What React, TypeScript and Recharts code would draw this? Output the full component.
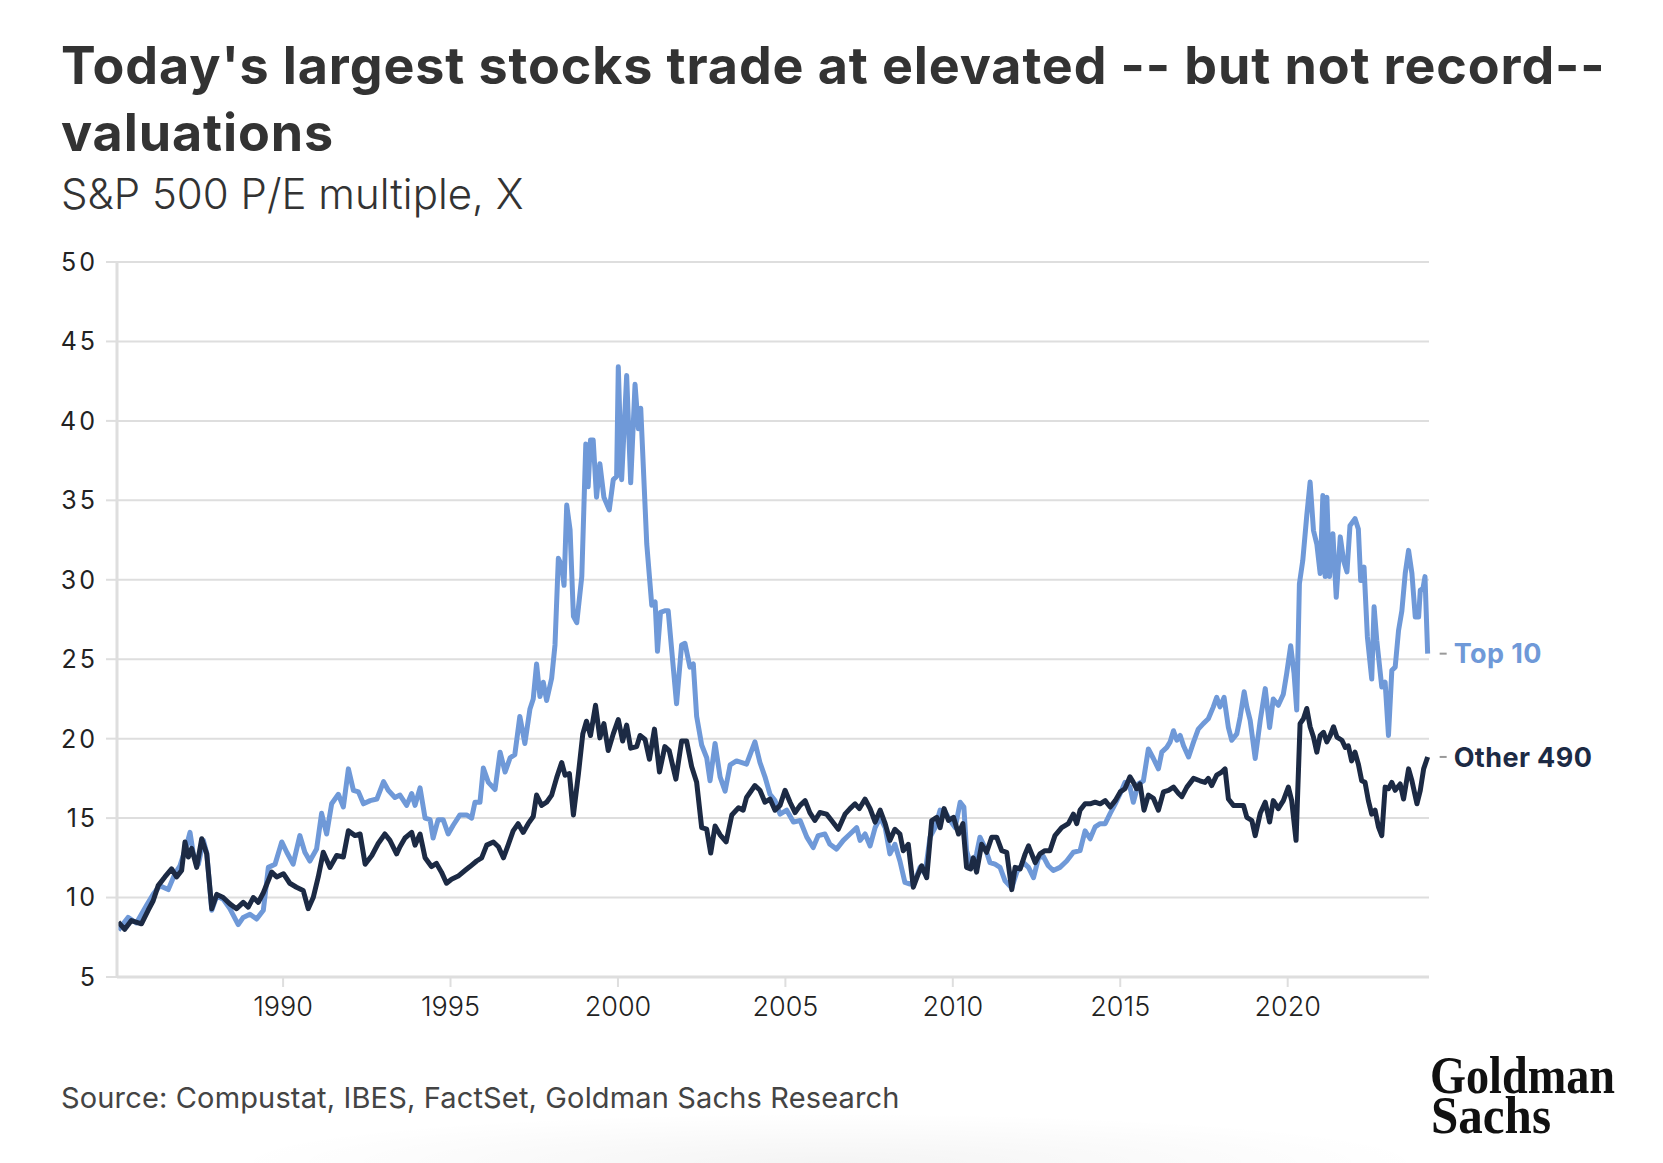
import React from 'react';
import { LineChart, Line, XAxis, YAxis, CartesianGrid } from 'recharts';

// [year, P/E]
const top10: [number, number][] = [
  [1985.08, 7.95], [1985.37, 8.75], [1985.62, 8.4], [1985.92, 9.5], [1986.12, 10.2], [1986.32, 10.75], [1986.57, 10.5], [1986.77, 11.5], [1986.92, 12.0], [1987.12, 13.3], [1987.22, 14.1], [1987.32, 12.75], [1987.47, 12.1], [1987.62, 13.6], [1987.72, 12.8], [1987.87, 9.2], [1988.02, 10.1], [1988.21, 9.9], [1988.41, 9.3], [1988.66, 8.3], [1988.81, 8.75], [1989.01, 8.95], [1989.21, 8.65], [1989.41, 9.2], [1989.56, 11.9], [1989.76, 12.1], [1989.96, 13.5],
  [1990.11, 12.85], [1990.3, 12.1], [1990.5, 13.9], [1990.65, 12.85], [1990.8, 12.3], [1991.0, 13.05], [1991.15, 15.3], [1991.3, 14.0], [1991.45, 15.9], [1991.65, 16.5], [1991.8, 15.7], [1991.95, 18.1], [1992.1, 16.75], [1992.25, 16.65], [1992.4, 15.9], [1992.6, 16.1], [1992.8, 16.2], [1993.0, 17.3], [1993.14, 16.75], [1993.34, 16.3], [1993.49, 16.45], [1993.69, 15.8], [1993.84, 16.55], [1993.94, 15.8], [1994.09, 16.9], [1994.24, 15.0], [1994.39, 14.9], [1994.48, 13.75], [1994.63, 14.9], [1994.78, 14.9], [1994.93, 14.0],
  [1995.08, 14.55], [1995.28, 15.2], [1995.48, 15.2], [1995.63, 15.0], [1995.73, 16.0], [1995.88, 16.0], [1995.98, 18.15], [1996.13, 17.25], [1996.33, 16.8], [1996.48, 19.15], [1996.63, 17.9], [1996.78, 18.8], [1996.92, 19.0], [1997.07, 21.4], [1997.22, 19.7], [1997.37, 21.85], [1997.47, 22.5], [1997.57, 24.7], [1997.67, 22.65], [1997.77, 23.55], [1997.87, 22.4], [1998.02, 23.8], [1998.12, 25.9], [1998.22, 31.35], [1998.32, 30.9], [1998.39, 29.65], [1998.47, 34.7], [1998.57, 33.15], [1998.67, 27.7], [1998.77, 27.3], [1998.92, 30.2], [1999.04, 38.55], [1999.11, 35.85], [1999.18, 38.8], [1999.26, 38.8], [1999.36, 35.2], [1999.46, 37.3], [1999.58, 35.2], [1999.74, 34.4], [1999.86, 36.3], [1999.96, 36.5],
  [2000.01, 43.4], [2000.11, 36.3], [2000.26, 42.85], [2000.38, 36.1], [2000.51, 42.3], [2000.61, 39.5], [2000.68, 40.8], [2000.86, 32.25], [2001.01, 28.4], [2001.11, 28.6], [2001.18, 25.5], [2001.27, 27.95], [2001.4, 28.05], [2001.5, 28.05], [2001.57, 26.4], [2001.75, 22.2], [2001.9, 25.9], [2002.0, 26.0], [2002.15, 24.5], [2002.25, 24.7], [2002.35, 21.4], [2002.5, 19.6], [2002.65, 18.8], [2002.75, 17.35], [2002.9, 19.7], [2003.05, 17.6], [2003.2, 16.7], [2003.35, 18.35], [2003.54, 18.6], [2003.84, 18.4], [2004.09, 19.8], [2004.24, 18.5], [2004.39, 17.6], [2004.54, 16.5], [2004.69, 16.1], [2004.84, 15.25],
  [2005.04, 15.5], [2005.24, 14.75], [2005.44, 14.85], [2005.64, 13.8], [2005.83, 13.15], [2005.98, 13.9], [2006.18, 14.0], [2006.33, 13.35], [2006.53, 13.05], [2006.73, 13.6], [2006.93, 14.0], [2007.13, 14.4], [2007.23, 13.6], [2007.38, 14.0], [2007.53, 13.25], [2007.68, 14.4], [2007.83, 15.05], [2007.98, 14.4], [2008.12, 12.75], [2008.27, 13.35], [2008.42, 12.3], [2008.57, 10.95], [2008.72, 10.85], [2008.87, 11.05], [2009.02, 11.9], [2009.17, 11.5], [2009.32, 13.8], [2009.47, 14.4], [2009.62, 15.5], [2009.77, 15.4], [2009.92, 14.85],
  [2010.07, 14.4], [2010.22, 16.0], [2010.33, 15.7], [2010.41, 12.95], [2010.56, 11.9], [2010.71, 12.75], [2010.81, 13.8], [2010.96, 13.15], [2011.11, 12.2], [2011.26, 12.1], [2011.41, 11.9], [2011.56, 11.05], [2011.76, 10.6], [2011.91, 11.6], [2012.11, 12.2], [2012.26, 11.9], [2012.41, 11.25], [2012.56, 12.5], [2012.7, 12.6], [2012.85, 12.0], [2013.0, 11.7], [2013.2, 11.9], [2013.4, 12.3], [2013.6, 12.85], [2013.8, 12.95], [2013.95, 14.2], [2014.1, 13.7], [2014.25, 14.45], [2014.4, 14.65], [2014.55, 14.65], [2014.7, 15.3], [2014.85, 15.9],
  [2015.0, 16.55], [2015.14, 17.25], [2015.29, 16.95], [2015.39, 16.0], [2015.54, 17.15], [2015.69, 17.35], [2015.84, 19.35], [2015.99, 18.75], [2016.14, 18.1], [2016.24, 19.15], [2016.39, 19.45], [2016.49, 19.8], [2016.59, 20.5], [2016.69, 19.9], [2016.79, 20.2], [2016.89, 19.55], [2017.04, 18.85], [2017.19, 19.8], [2017.33, 20.6], [2017.48, 20.95], [2017.63, 21.25], [2017.78, 22.0], [2017.88, 22.6], [2017.98, 22.0], [2018.1, 22.6], [2018.23, 20.7], [2018.33, 19.9], [2018.48, 20.3], [2018.58, 21.35], [2018.7, 22.95], [2018.78, 22.0], [2018.88, 21.15], [2019.03, 18.75], [2019.18, 21.15], [2019.33, 23.15], [2019.46, 20.7], [2019.57, 22.5], [2019.72, 22.1], [2019.87, 22.8], [2019.97, 24.1],
  [2020.09, 25.85], [2020.19, 24.1], [2020.27, 21.8], [2020.35, 29.75], [2020.45, 31.2], [2020.57, 34.05], [2020.67, 36.15], [2020.77, 33.1], [2020.87, 32.25], [2020.97, 30.4], [2021.05, 35.3], [2021.12, 30.2], [2021.17, 35.2], [2021.25, 30.2], [2021.35, 32.9], [2021.45, 28.9], [2021.57, 32.7], [2021.67, 31.2], [2021.77, 30.5], [2021.86, 33.4], [2022.01, 33.85], [2022.11, 33.2], [2022.18, 29.95], [2022.28, 30.8], [2022.38, 26.4], [2022.51, 23.75], [2022.58, 28.3], [2022.66, 26.2], [2022.81, 23.25], [2022.91, 23.55], [2023.01, 20.2], [2023.11, 24.3], [2023.21, 24.5], [2023.31, 26.8], [2023.41, 28.05], [2023.51, 30.4], [2023.61, 31.85], [2023.71, 30.4], [2023.81, 27.65], [2023.91, 27.65], [2023.96, 29.35], [2024.04, 29.45], [2024.1, 30.2], [2024.18, 25.35],
];

const other490: [number, number][] = [
  [1985.08, 8.45], [1985.27, 8.0], [1985.47, 8.55], [1985.77, 8.35], [1985.97, 9.2], [1986.12, 9.8], [1986.27, 10.75], [1986.47, 11.3], [1986.67, 11.8], [1986.82, 11.3], [1986.97, 11.7], [1987.07, 13.5], [1987.17, 12.55], [1987.27, 13.1], [1987.42, 11.9], [1987.57, 13.7], [1987.72, 12.75], [1987.87, 9.3], [1988.02, 10.2], [1988.21, 10.0], [1988.41, 9.6], [1988.61, 9.3], [1988.81, 9.7], [1988.96, 9.4], [1989.11, 10.0], [1989.26, 9.7], [1989.41, 10.3], [1989.66, 11.6], [1989.81, 11.3],
  [1990.01, 11.5], [1990.2, 10.9], [1990.4, 10.65], [1990.6, 10.45], [1990.75, 9.3], [1990.9, 10.0], [1991.05, 11.3], [1991.2, 12.85], [1991.4, 11.9], [1991.6, 12.65], [1991.8, 12.55], [1991.95, 14.2], [1992.15, 13.9], [1992.3, 14.0], [1992.45, 12.1], [1992.65, 12.65], [1992.84, 13.4], [1993.04, 14.0], [1993.19, 13.6], [1993.39, 12.75], [1993.49, 13.2], [1993.64, 13.75], [1993.84, 14.1], [1993.94, 13.3], [1994.09, 14.0], [1994.24, 12.5], [1994.43, 11.95], [1994.58, 12.15], [1994.73, 11.6], [1994.88, 10.9],
  [1995.03, 11.15], [1995.23, 11.35], [1995.43, 11.7], [1995.58, 11.95], [1995.78, 12.3], [1995.93, 12.5], [1996.08, 13.3], [1996.28, 13.5], [1996.43, 13.2], [1996.58, 12.5], [1996.72, 13.3], [1996.87, 14.2], [1997.02, 14.65], [1997.17, 14.1], [1997.32, 14.65], [1997.47, 15.1], [1997.57, 16.45], [1997.72, 15.8], [1997.87, 16.0], [1998.02, 16.45], [1998.17, 17.55], [1998.32, 18.5], [1998.42, 17.7], [1998.55, 17.8], [1998.67, 15.2], [1998.82, 17.8], [1998.95, 20.3], [1999.06, 21.1], [1999.18, 20.2], [1999.33, 22.1], [1999.46, 20.05], [1999.58, 20.95], [1999.71, 19.25], [1999.86, 20.3],
  [2000.01, 21.2], [2000.14, 19.85], [2000.26, 20.85], [2000.38, 19.4], [2000.56, 19.5], [2000.66, 20.2], [2000.81, 19.95], [2000.94, 18.7], [2001.09, 20.6], [2001.24, 17.9], [2001.4, 19.5], [2001.53, 19.25], [2001.73, 17.45], [2001.9, 19.85], [2002.05, 19.85], [2002.2, 18.25], [2002.35, 17.25], [2002.5, 14.4], [2002.65, 14.3], [2002.77, 12.8], [2002.9, 14.5], [2003.05, 13.95], [2003.23, 13.5], [2003.4, 15.2], [2003.6, 15.65], [2003.74, 15.5], [2003.84, 16.3], [2004.09, 17.05], [2004.24, 16.75], [2004.39, 16.0], [2004.54, 16.2], [2004.69, 15.5], [2004.84, 15.8], [2004.99, 16.75],
  [2005.14, 16.0], [2005.29, 15.35], [2005.44, 15.8], [2005.59, 16.1], [2005.73, 15.35], [2005.88, 14.85], [2006.03, 15.35], [2006.23, 15.25], [2006.38, 14.85], [2006.58, 14.3], [2006.78, 15.25], [2006.93, 15.6], [2007.08, 15.9], [2007.21, 15.6], [2007.38, 16.2], [2007.53, 15.6], [2007.68, 14.75], [2007.83, 15.5], [2007.98, 14.65], [2008.12, 13.6], [2008.27, 14.3], [2008.42, 14.0], [2008.52, 12.95], [2008.67, 13.35], [2008.82, 10.65], [2008.97, 11.5], [2009.07, 12.0], [2009.22, 11.25], [2009.37, 14.85], [2009.52, 15.05], [2009.62, 14.4], [2009.74, 15.6], [2009.87, 14.85],
  [2010.02, 15.05], [2010.17, 14.0], [2010.3, 14.65], [2010.41, 11.9], [2010.53, 11.8], [2010.61, 12.5], [2010.71, 11.6], [2010.86, 13.35], [2011.01, 12.85], [2011.16, 13.8], [2011.31, 13.8], [2011.46, 12.95], [2011.61, 12.85], [2011.76, 10.5], [2011.86, 11.9], [2012.01, 11.8], [2012.16, 12.75], [2012.26, 13.25], [2012.46, 12.2], [2012.6, 12.75], [2012.75, 12.95], [2012.9, 12.95], [2013.05, 13.9], [2013.25, 14.4], [2013.45, 14.65], [2013.6, 15.25], [2013.7, 14.65], [2013.8, 15.5], [2013.95, 15.9], [2014.1, 15.9], [2014.25, 16.0], [2014.4, 15.9], [2014.55, 16.1], [2014.7, 15.7], [2014.85, 16.1],
  [2015.0, 16.65], [2015.14, 16.85], [2015.29, 17.6], [2015.39, 17.25], [2015.49, 16.85], [2015.59, 17.15], [2015.71, 15.5], [2015.84, 16.45], [2015.99, 16.25], [2016.14, 15.5], [2016.29, 16.65], [2016.44, 16.75], [2016.59, 16.95], [2016.74, 16.55], [2016.84, 16.35], [2016.99, 16.95], [2017.19, 17.5], [2017.38, 17.35], [2017.53, 17.25], [2017.63, 17.5], [2017.73, 17.05], [2017.88, 17.7], [2018.03, 17.9], [2018.13, 18.1], [2018.23, 16.2], [2018.38, 15.8], [2018.53, 15.8], [2018.68, 15.8], [2018.78, 15.05], [2018.93, 14.85], [2019.03, 13.9], [2019.18, 15.3], [2019.33, 16.0], [2019.46, 14.75], [2019.57, 16.1], [2019.72, 15.6], [2019.87, 16.1],
  [2020.02, 16.95], [2020.12, 16.1], [2020.25, 13.6], [2020.37, 20.95], [2020.47, 21.25], [2020.57, 21.9], [2020.67, 20.75], [2020.77, 20.1], [2020.87, 19.15], [2020.97, 20.2], [2021.07, 20.4], [2021.17, 19.8], [2021.27, 20.2], [2021.37, 20.75], [2021.47, 20.1], [2021.62, 19.9], [2021.72, 19.45], [2021.81, 19.55], [2021.91, 18.6], [2022.01, 19.15], [2022.11, 18.4], [2022.21, 17.35], [2022.31, 17.25], [2022.41, 16.1], [2022.51, 15.25], [2022.61, 15.5], [2022.71, 14.45], [2022.81, 13.9], [2022.91, 16.95], [2023.01, 16.85], [2023.11, 17.25], [2023.21, 16.75], [2023.36, 17.15], [2023.46, 16.2], [2023.61, 18.1], [2023.71, 17.35], [2023.86, 15.9], [2023.96, 16.75], [2024.06, 18.1], [2024.18, 18.85],
];

const yTicks = [5, 10, 15, 20, 25, 30, 35, 40, 45, 50];
const xTicks = [1990, 1995, 2000, 2005, 2010, 2015, 2020];

const TOP_COLOR = '#6f99d8';
const OTHER_COLOR = '#1c2a44';
const GRID = '#dedede';

const top10Data = top10.map(([x, v]) => ({ x, v }));
const otherData = other490.map(([x, v]) => ({ x, v }));

// name label at the end of a line, with the little grey dash
const endLabel = (text: string, color: string, last: number) => (props: any) => {
  if (props.index !== last) return null;
  const { x, y } = props;
  return (
    <g>
      <line x1={x + 12} x2={x + 19} y1={y} y2={y} stroke="#999" strokeWidth={2} />
      <text x={x + 26} y={y} dy="0.36em" fill={color} fontSize={27} fontWeight={700} fontFamily="Inter, sans-serif" letterSpacing={0.4}>
        {text}
      </text>
    </g>
  );
};

export default function App() {
  return (
    <div style={{ position: 'absolute', left: 0, top: 0, width: 1663, height: 1163, background: '#fff', overflow: 'hidden', fontFamily: 'Inter, sans-serif' }}>
      <div style={{ position: 'absolute', left: 61, top: 32, fontSize: 52, lineHeight: '67px', fontWeight: 700, color: '#333', whiteSpace: 'nowrap', letterSpacing: 0.9 }}>
        Today's largest stocks trade at elevated -- but not record--<br />valuations
      </div>
      <div style={{ position: 'absolute', left: 61, top: 173, fontSize: 42, lineHeight: 1, fontWeight: 300, color: '#333', whiteSpace: 'nowrap' }}>
        S&amp;P 500 P/E multiple, X
      </div>

      <div style={{ position: 'absolute', left: 0, top: 0 }}>
        <LineChart width={1663} height={1100} margin={{ top: 262, right: 234, bottom: 63, left: 57 }}>
          <CartesianGrid vertical={false} stroke={GRID} strokeWidth={2} />
          <XAxis
            dataKey="x"
            type="number"
            domain={[1985.04, 2024.22]}
            ticks={xTicks}
            interval={0}
            height={60}
            axisLine={{ stroke: GRID, strokeWidth: 3 }}
            tickLine={{ stroke: GRID, strokeWidth: 2 }}
            tickSize={10}
            tickMargin={10}
            tick={{ fill: '#222', fontSize: 27, fontFamily: 'Inter, sans-serif', fontWeight: 300 }}
          />
          <YAxis
            type="number"
            domain={[5, 50]}
            ticks={yTicks}
            interval={0}
            width={60}
            axisLine={{ stroke: GRID, strokeWidth: 3 }}
            tickLine={{ stroke: GRID, strokeWidth: 2 }}
            tickSize={11}
            tickMargin={8}
            tick={{ fill: '#222', fontSize: 25, fontFamily: 'Inter, sans-serif', fontWeight: 400, letterSpacing: 3 }}
          />
          <Line
            data={top10Data}
            dataKey="v"
            type="linear"
            stroke={TOP_COLOR}
            strokeWidth={5}
            strokeLinejoin="round"
            dot={false}
            activeDot={false}
            isAnimationActive={false}
            label={endLabel('Top 10', TOP_COLOR, top10Data.length - 1)}
          />
          <Line
            data={otherData}
            dataKey="v"
            type="linear"
            stroke={OTHER_COLOR}
            strokeWidth={5}
            strokeLinejoin="round"
            dot={false}
            activeDot={false}
            isAnimationActive={false}
            label={endLabel('Other 490', OTHER_COLOR, otherData.length - 1)}
          />
        </LineChart>
      </div>

      <div style={{ position: 'absolute', left: 61, top: 1083, fontSize: 29, lineHeight: 1, fontWeight: 400, color: '#444', whiteSpace: 'nowrap', letterSpacing: 0.15 }}>
        Source: Compustat, IBES, FactSet, Goldman Sachs Research
      </div>

      <div style={{ position: 'absolute', left: 220, top: 1112, width: 1220, height: 51, background: 'radial-gradient(ellipse at 50% 100%, rgba(0,0,0,0.045), rgba(0,0,0,0) 70%)' }} />

      <svg style={{ position: 'absolute', left: 1410, top: 1030, overflow: 'visible' }} width={240} height={125}>
        <text fontFamily="'Liberation Serif', serif" fontWeight={700} fontSize={53} fill="#111">
          <tspan x={20} y={63} textLength={185} lengthAdjust="spacingAndGlyphs">Goldman</tspan>
          <tspan x={21} y={103} textLength={120} lengthAdjust="spacingAndGlyphs">Sachs</tspan>
        </text>
      </svg>
    </div>
  );
}
